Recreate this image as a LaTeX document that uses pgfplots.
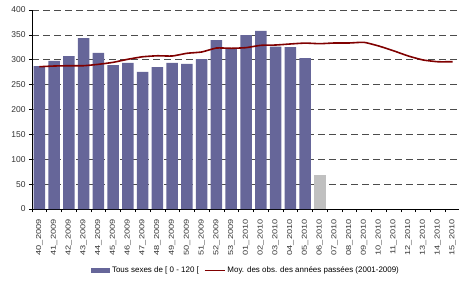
\documentclass[border=0pt]{standalone}
\usepackage{graphicx}
\usepackage{pgfplots}
\pgfplotsset{compat=1.18}
\usepackage{fontspec}
\setmainfont{Liberation Sans}
\definecolor{barblue}{HTML}{666699}
\definecolor{bargray}{HTML}{C0C0C0}
\definecolor{linered}{HTML}{800000}
\newcommand{\xl}[1]{\scalebox{1.28}[1]{#1}}
\begin{document}
\begin{tikzpicture}
\path[use as bounding box] (-32bp,-73bp) rectangle (427bp,209bp);
\begin{axis}[
  scale only axis,
  width=428bp, height=199bp,
  xmin=-0.5, xmax=28.5,
  ymin=0, ymax=400,
  axis x line=bottom, axis y line=left,
  axis line style={-, black, line width=0.8pt},
  xtick={0,...,28},
  xticklabels={\xl{40\_2009},\xl{41\_2009},\xl{42\_2009},\xl{43\_2009},\xl{44\_2009},\xl{45\_2009},\xl{46\_2009},\xl{47\_2009},\xl{48\_2009},\xl{49\_2009},\xl{50\_2009},\xl{51\_2009},\xl{52\_2009},\xl{53\_2009},\xl{01\_2010},\xl{02\_2010},\xl{03\_2010},\xl{04\_2010},\xl{05\_2010},\xl{06\_2010},\xl{07\_2010},\xl{08\_2010},\xl{09\_2010},\xl{10\_2010},\xl{11\_2010},\xl{12\_2010},\xl{13\_2010},\xl{14\_2010},\xl{15\_2010}},
  major x tick style={draw=none},
  minor xtick={-0.5,0.5,...,28.5},
  minor x tick style={black, line width=0.6pt},
  minor tick length=3bp,
  tick align=outside,
  xticklabel shift=4bp,
  x tick label style={rotate=90, anchor=east, font=\fontsize{7.2}{8}\selectfont, text=black!80},
  ytick={0,50,...,400},
  y tick label style={font=\fontsize{8.5}{10}\selectfont, text=black!80},
  major y tick style={black, line width=0.6pt},
  major tick length=3bp,
  ymajorgrids,
  grid style={dash pattern=on 7bp off 4bp, black!70, line width=0.6pt},
  /pgf/number format/assume math mode=true,
  legend style={draw=none, at={(0.5,-0.31)}, anchor=center, font=\fontsize{8}{9}\selectfont, legend columns=2, /tikz/every even column/.append style={column sep=3bp}},
  legend cell align=left,
]
\addplot[ybar, bar width=11.5bp, fill=barblue, draw=none,
  legend image code/.code={\fill[barblue] (0bp,-2.4bp) rectangle (19bp,2.4bp);}]
  coordinates {(0,287) (1,297.5) (2,307.5) (3,343.7) (4,313.6) (5,289.4) (6,293.5) (7,275.4) (8,285.4) (9,293.5) (10,291.5) (11,301.5) (12,339.7) (13,323) (14,349.7) (15,357.8) (16,326.3) (17,325.6) (18,303.5)};
\addlegendentry{Tous sexes de [ 0 - 120 [}
\addplot[ybar, bar width=11.5bp, fill=bargray, draw=none, forget plot]
  coordinates {(19,68.3)};
\addplot[linered, line width=1.6pt, smooth, tension=0.3, mark=none,
  legend image code/.code={\draw[linered, line width=1.6pt] (0bp,0bp) -- (20bp,0bp);}]
  coordinates {(0,286) (1,287.4) (2,288) (3,288) (4,290.8) (5,294.8) (6,301) (7,306) (8,308) (9,307.5) (10,313) (11,315.6) (12,323.6) (13,323) (14,324.3) (15,329) (16,329.6) (17,331.7) (18,333.5) (19,332.3) (20,333.7) (21,333.7) (22,335) (23,327.6) (24,318) (25,307.5) (26,299.5) (27,296) (28,296)};
\addlegendentry{Moy. des obs. des ann\'ees pass\'ees (2001-2009)}
\end{axis}
\end{tikzpicture}
\end{document}
